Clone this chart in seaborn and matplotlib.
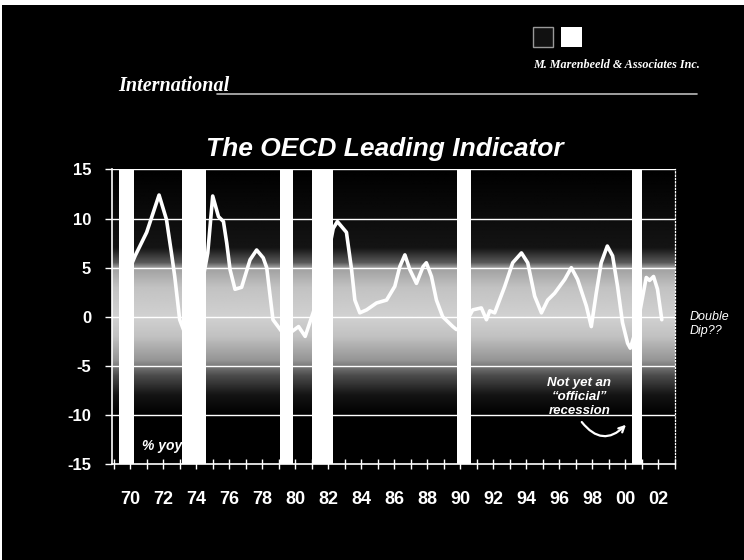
import numpy as np
import pandas as pd
import seaborn as sns
import matplotlib.pyplot as plt
from matplotlib.patches import Rectangle
from matplotlib.lines import Line2D

# OECD leading indicator, % yoy
years = [1969.5, 1970.3, 1971.0, 1971.75, 1972.2, 1972.5, 1972.7, 1973.0, 1973.5, 1974.2,
         1974.7, 1975.0, 1975.35, 1975.65, 1975.85, 1976.05, 1976.35, 1976.75, 1977.26, 1977.66,
         1978.06, 1978.27, 1978.65, 1979.4, 1980.2, 1980.6, 1981.6, 1982.3, 1982.55, 1983.1,
         1983.41, 1983.61, 1983.91, 1984.32, 1984.92, 1985.53, 1986.03, 1986.33, 1986.64, 1986.94,
         1987.34, 1987.74, 1987.94, 1988.25, 1988.55, 1988.93, 1989.54, 1989.76, 1990.2, 1990.75,
         1991.27, 1991.58, 1991.78, 1992.08, 1992.69, 1993.17, 1993.7, 1994.08, 1994.5, 1994.91,
         1995.29, 1995.71, 1996.32, 1996.72, 1997.1, 1997.63, 1997.93, 1998.23, 1998.53, 1998.9,
         1999.22, 1999.52, 1999.82, 2000.13, 2000.29, 2000.7, 2001.26, 2001.46, 2001.7, 2001.94,
         2002.2]
values = [3.0, 6.2, 8.6, 12.4, 9.9, 6.5, 4.1, -0.3, -2.5, 2.0,
          6.5, 12.3, 10.2, 9.7, 7.5, 4.8, 2.8, 3.0, 5.8, 6.8,
          6.0, 5.0, -0.3, -2.0, -1.0, -2.0, 3.0, 9.0, 9.7, 8.6,
          4.8, 1.7, 0.4, 0.7, 1.4, 1.7, 3.1, 5.1, 6.3, 4.8,
          3.4, 5.1, 5.5, 4.1, 1.7, 0.0, -1.0, -1.3, -1.0, 0.7,
          0.9, -0.3, 0.6, 0.4, 3.1, 5.5, 6.5, 5.5, 2.1, 0.4,
          1.7, 2.4, 3.8, 5.0, 3.8, 1.1, -1.0, 2.4, 5.5, 7.2,
          6.2, 3.1, -0.6, -2.7, -3.2, -1.0, 4.0, 3.7, 4.1, 2.8,
          -0.3]

# recession periods (start, end)
rec_start = [1969.3, 1973.14, 1979.06, 1981.0, 1989.82, 2000.39]
rec_end = [1970.25, 1974.59, 1979.85, 1982.27, 1990.66, 2000.99]

xticks = list(range(1970, 2003, 2))
yticks = [-15, -10, -5, 0, 5, 10, 15]

df = pd.DataFrame({"year": years, "yoy": values})

sns.set_style("ticks")
plt.rcParams["font.family"] = ["Liberation Sans", "DejaVu Sans"]

W, H = 744, 560
fig = plt.figure(figsize=(W / 100, H / 100), dpi=100, facecolor="white")


def fx(px):
    return px / W


def fy(py):
    return 1 - py / H


# black slide background (thin white strip left and top)
bg = fig.add_axes([fx(2), 0, 1, fy(5)], zorder=-10)
bg.set_facecolor("black")
bg.set_axis_off()
bg.add_patch(Rectangle((0, 0), 1, 1, transform=bg.transAxes, facecolor="black",
                       edgecolor="none"))

x0, x1 = 1968.9, 2003.0
ax = fig.add_axes([fx(112), fy(464), fx(675) - fx(112), fy(169.5) - fy(464)])
ax.set_facecolor("black")

# gray band behind the data
yy = np.linspace(-15, 15, 301)
band = np.interp(yy, [-15, -10, -8, -6, -4.5, -2, 0, 3, 5, 5.5, 7, 15],
                 [0, 0, 0.08, 0.3, 0.58, 0.76, 0.82, 0.76, 0.62, 0.35, 0.08, 0])
ax.imshow(band[:, None] * np.ones((1, 10)), cmap="gray", vmin=0, vmax=1,
          extent=[x0, x1, -15, 15], origin="lower", aspect="auto", zorder=0)

for y in [-10, -5, 0, 5, 10, 15]:
    ax.axhline(y, color="white", lw=1, zorder=1)

sns.lineplot(data=df, x="year", y="yoy", color="white", lw=2.6, ax=ax, zorder=3)

for a, b in zip(rec_start, rec_end):
    ax.axvspan(a, b, color="white", lw=0, zorder=4)

ax.set_xlim(x0, x1)
ax.set_ylim(-15, 15)
ax.set_xlabel("")
ax.set_ylabel("")

ax.set_xticks(xticks)
ax.set_xticklabels([f"{x % 100:02d}" for x in xticks])
ax.set_xticks(range(1969, 2004), minor=True)
ax.set_yticks(yticks)
ax.set_yticklabels([str(v) for v in yticks])
ax.tick_params(axis="x", which="both", direction="inout", length=7, width=1,
               colors="white", labelsize=13, pad=16)
ax.tick_params(axis="y", direction="out", length=5, width=1, colors="white",
               labelsize=12, pad=10)
for lab in ax.get_xticklabels() + ax.get_yticklabels():
    lab.set_fontweight("bold")

for s in ["left", "bottom"]:
    ax.spines[s].set_color("white")
    ax.spines[s].set_linewidth(1.2)
ax.spines["top"].set_visible(False)
ax.spines["right"].set_color("white")
ax.spines["right"].set_linestyle(":")
ax.spines["right"].set_linewidth(0.9)

ax.text(1970.7, -13.2, "% yoy", color="white", fontsize=10, fontweight="bold",
        fontstyle="italic", va="center", ha="left", zorder=5)
ax.text(1997.2, -8.2, "Not yet an\n\u201cofficial\u201d\nrecession", color="white",
        fontsize=9.5, fontweight="bold", fontstyle="italic", ha="center", va="center",
        linespacing=1.2, zorder=5)
ax.annotate("", xy=(2000.15, -10.8), xytext=(1997.25, -10.5),
            arrowprops=dict(arrowstyle="->", color="white", lw=1.6,
                            connectionstyle="arc3,rad=0.6"), zorder=5)

# header and side texts
fig.text(fx(385), fy(149), "The OECD Leading Indicator", color="white", fontsize=19,
         fontweight="bold", fontstyle="italic", ha="center", va="center")
fig.text(fx(118), fy(91), "International", color="white", fontsize=14.5,
         fontstyle="italic", fontweight="bold", family="Liberation Serif",
         ha="left", va="baseline")
fig.lines.append(Line2D([fx(217), fx(697)], [fy(94), fy(94)], transform=fig.transFigure,
                        color="#bbbbbb", lw=1.2))
fig.patches.append(Rectangle((fx(533), fy(47)), fx(20), 20 / H, transform=fig.transFigure,
                             facecolor="#111111", edgecolor="#999999", lw=1))
fig.patches.append(Rectangle((fx(561), fy(47)), fx(21), 20 / H, transform=fig.transFigure,
                             facecolor="white", edgecolor="none"))
fig.text(fx(533), fy(65), "M. Marenbeeld & Associates Inc.", color="white", fontsize=8.7,
         fontstyle="italic", fontweight="bold", family="Liberation Serif",
         ha="left", va="center")
fig.text(fx(690), fy(324), "Double\nDip??", color="white", fontsize=9,
         fontstyle="italic", ha="left", va="center", linespacing=1.3)

fig.savefig("out.png", dpi=100, facecolor=fig.get_facecolor())
